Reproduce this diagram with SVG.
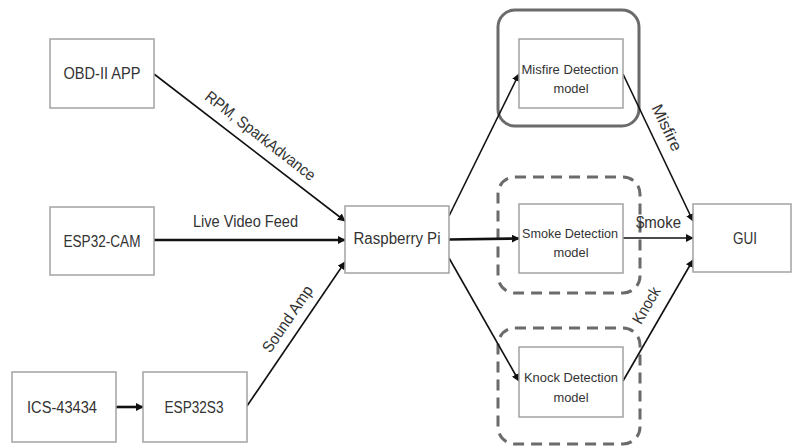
<svg xmlns="http://www.w3.org/2000/svg" width="792" height="448" viewBox="0 0 792 448">
<defs>
<marker id="ah" viewBox="0 0 10 10" refX="9" refY="5" markerWidth="8" markerHeight="8" markerUnits="userSpaceOnUse" orient="auto">
<path d="M0,0 L10,5 L0,10 z" fill="#111"/>
</marker>
</defs>
<style>
.box{fill:#fff;stroke:#a3a3a3;stroke-width:1.5}
.t{font-family:"Liberation Sans",Arial,sans-serif;fill:#333;text-anchor:middle}
.big{font-size:16px}
.sm{font-size:13px}
.lbl{font-family:"Liberation Sans",Arial,sans-serif;fill:#333;font-size:16px;text-anchor:middle}
.c{fill:none;stroke:#111;stroke-width:1.6;marker-end:url(#ah)}
.thick{stroke-width:2.6}
.grp{fill:none;stroke:#6b6b6b;stroke-width:3}
.dash{stroke-dasharray:11 7}
</style>
<rect width="792" height="448" fill="#fff"/>
<g id="containers">
<rect id="misfire-group" class="grp" x="498" y="10" width="141" height="116" rx="17"/>
<rect id="smoke-group" class="grp dash" x="498" y="177" width="142" height="116" rx="17"/>
<rect id="knock-group" class="grp dash" x="498" y="328" width="142" height="116" rx="17"/>
</g>
<g id="connectors">
<line class="c" x1="154" y1="74" x2="345" y2="221"/>
<line class="c thick" x1="154" y1="240" x2="345" y2="240"/>
<line class="c" x1="247" y1="406" x2="345" y2="262"/>
<line class="c thick" x1="116" y1="407" x2="143" y2="407"/>
<line class="c" x1="449" y1="216" x2="519" y2="74"/>
<line class="c thick" x1="449" y1="239.5" x2="519" y2="238.5"/>
<line class="c" x1="449" y1="258" x2="519" y2="381"/>
<line class="c" x1="623" y1="74" x2="693" y2="221"/>
<line class="c" x1="623" y1="238" x2="693" y2="238"/>
<line class="c" x1="623" y1="381" x2="693" y2="260"/>
<text class="lbl" transform="translate(257,140) rotate(37.8)" textLength="135" lengthAdjust="spacingAndGlyphs">RPM, SparkAdvance</text>
<text class="lbl" x="245.5" y="227" textLength="105" lengthAdjust="spacingAndGlyphs">Live Video Feed</text>
<text class="lbl" transform="translate(292,322) rotate(-55.8)" textLength="77" lengthAdjust="spacingAndGlyphs">Sound Amp</text>
<text class="lbl" transform="translate(662,130) rotate(64.4)" textLength="50" lengthAdjust="spacingAndGlyphs">Misfire</text>
<text class="lbl" x="658.5" y="228" textLength="45" lengthAdjust="spacingAndGlyphs">$moke</text>
<text class="lbl" transform="translate(651,308) rotate(-60)" textLength="40" lengthAdjust="spacingAndGlyphs">Knock</text>
</g>
<g id="obd">
<rect class="box" x="50" y="39" width="104" height="69"/>
<text class="t big" x="102" y="79" textLength="77" lengthAdjust="spacingAndGlyphs">OBD-II APP</text>
</g>
<g id="esp32cam">
<rect class="box" x="50" y="207" width="104" height="68"/>
<text class="t big" x="102" y="247" textLength="77" lengthAdjust="spacingAndGlyphs">ESP32-CAM</text>
</g>
<g id="ics">
<rect class="box" x="12" y="372" width="104" height="70"/>
<text class="t big" x="62" y="413" textLength="70" lengthAdjust="spacingAndGlyphs">ICS-43434</text>
</g>
<g id="esp32s3">
<rect class="box" x="143" y="372" width="104" height="70"/>
<text class="t big" x="194" y="413" textLength="59" lengthAdjust="spacingAndGlyphs">ESP32S3</text>
</g>
<g id="rpi">
<rect class="box" x="345" y="206" width="104" height="67"/>
<text class="t big" x="397" y="244" textLength="87" lengthAdjust="spacingAndGlyphs">Raspberry Pi</text>
</g>
<g id="misfire">
<rect class="box" x="519" y="39" width="104" height="69"/>
<text class="t sm" x="570" y="74" textLength="97" lengthAdjust="spacingAndGlyphs">Misfire Detection</text>
<text class="t sm" x="571" y="93" textLength="35" lengthAdjust="spacingAndGlyphs">model</text>
</g>
<g id="smoke">
<rect class="box" x="519" y="204" width="104" height="69"/>
<text class="t sm" x="570" y="238" textLength="96" lengthAdjust="spacingAndGlyphs">Smoke Detection</text>
<text class="t sm" x="571" y="257" textLength="35" lengthAdjust="spacingAndGlyphs">model</text>
</g>
<g id="knock">
<rect class="box" x="519" y="347" width="104" height="70"/>
<text class="t sm" x="571" y="382" textLength="94" lengthAdjust="spacingAndGlyphs">Knock Detection</text>
<text class="t sm" x="571" y="402" textLength="35" lengthAdjust="spacingAndGlyphs">model</text>
</g>
<g id="gui">
<rect class="box" x="693" y="204" width="98" height="68"/>
<text class="t big" x="745" y="244" textLength="24" lengthAdjust="spacingAndGlyphs">GUI</text>
</g>
</svg>
